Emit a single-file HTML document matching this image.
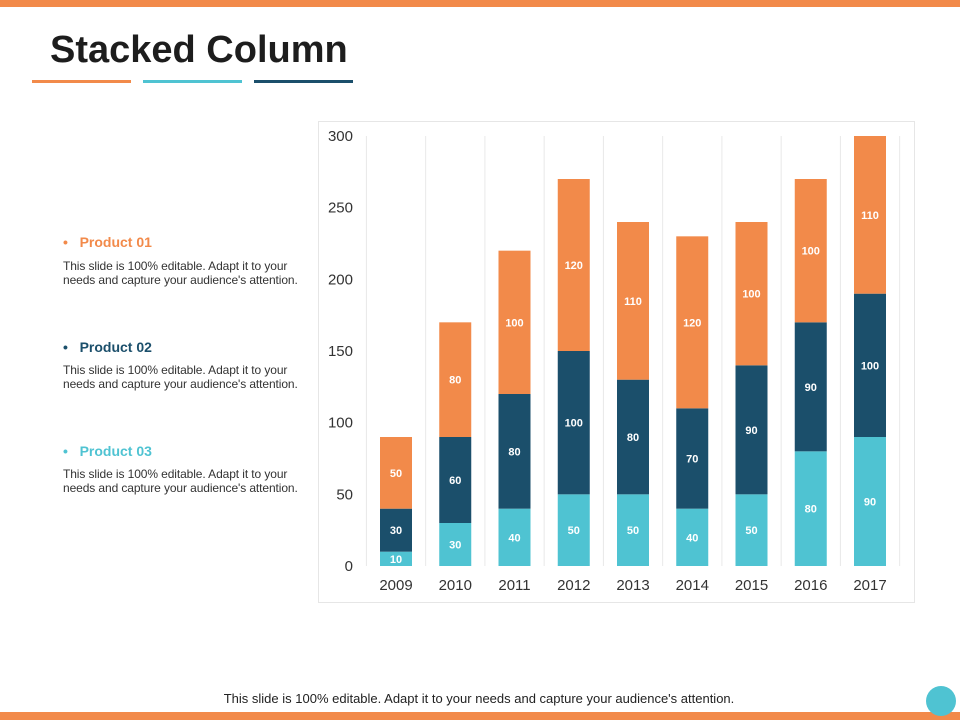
<!DOCTYPE html>
<html><head><meta charset="utf-8"><style>
body{margin:0;width:960px;height:720px;position:relative;background:#fff;font-family:"Liberation Sans",sans-serif;overflow:hidden}
.abs{position:absolute}
.ttl{left:50px;top:29px;font-size:38px;font-weight:bold;color:#1d1d1d}
.ph{font-size:14px;font-weight:bold}
.pd{font-size:12px;color:#333;line-height:14px;width:250px;letter-spacing:-0.1px}
</style></head><body>
<div class="abs" style="left:0;top:0;width:960px;height:7px;background:#F28A4A"></div>
<div class="abs" style="left:0;top:712px;width:960px;height:8px;background:#F28A4A"></div>
<div class="abs ttl">Stacked Column</div>
<div class="abs" style="left:32px;top:80px;width:99px;height:3px;background:#F28A4A"></div>
<div class="abs" style="left:143px;top:80px;width:99px;height:3px;background:#4FC3D2"></div>
<div class="abs" style="left:254px;top:80px;width:99px;height:3px;background:#1B4F6B"></div>

<div class="abs ph" style="left:63px;top:234px;color:#F28A4A">•&nbsp;&nbsp;&nbsp;Product 01</div>
<div class="abs pd" style="left:63px;top:259px">This slide is 100% editable. Adapt it to your needs and capture your audience's attention.</div>
<div class="abs ph" style="left:63px;top:339px;color:#1B4F6B">•&nbsp;&nbsp;&nbsp;Product 02</div>
<div class="abs pd" style="left:63px;top:363px">This slide is 100% editable. Adapt it to your needs and capture your audience's attention.</div>
<div class="abs ph" style="left:63px;top:443px;color:#4FC3D2">•&nbsp;&nbsp;&nbsp;Product 03</div>
<div class="abs pd" style="left:63px;top:467px">This slide is 100% editable. Adapt it to your needs and capture your audience's attention.</div>

<div class="abs" style="left:0;width:958px;top:691px;text-align:center;font-size:13px;color:#222">This slide is 100% editable. Adapt it to your needs and capture your audience's attention.</div>
<div class="abs" style="left:926px;top:686px;width:30px;height:30px;border-radius:50%;background:#4FC3D2"></div>

<svg class="abs" style="left:0;top:0" width="960" height="720" id="chart"></svg>
<script>
const categories=["2009","2010","2011","2012","2013","2014","2015","2016","2017"];
const product03=[10,30,40,50,50,40,50,80,90];
const product02=[30,60,80,100,80,70,90,90,100];
const product01=[50,80,100,120,110,120,100,100,110];
const yTicks=[0,50,100,150,200,250,300];
const svg=document.getElementById('chart');
const NS='http://www.w3.org/2000/svg';
const y=v=>566-v*(430/300);
const x=i=>396+i*59.25;
function mk(t,a){const e=document.createElementNS(NS,t);for(const k in a)e.setAttribute(k,a[k]);svg.appendChild(e);return e;}
const frame=mk('rect',{x:318.5,y:121.5,width:596,height:481,fill:'none',stroke:'#e6e6e6'});


for(let i=0;i<=categories.length;i++){
  const gx=x(i)-29.6;
  const g=mk('line',{x1:gx,x2:gx,y1:y(300),y2:y(0),stroke:'#e8e8e8'});
  
  
}
yTicks.forEach(t=>{
  const e=mk('text',{x:353,y:y(t)+5,'text-anchor':'end','font-size':15,fill:'#333','font-family':'Liberation Sans'});
  e.textContent=t;
  
  
});
const series=[[product03,'#4FC3D2','product-03'],[product02,'#1B4F6B','product-02'],[product01,'#F28A4A','product-01']];
categories.forEach((c,i)=>{
  let base=0;
  series.forEach(([arr,col,nm])=>{
    const v=arr[i];
    const r=mk('rect',{x:x(i)-16,y:y(base+v),width:32,height:y(base)-y(base+v),fill:col});
    
    
    const l=mk('text',{x:x(i),y:y(base+v/2)+4,'text-anchor':'middle','font-size':11,'font-weight':'bold',fill:'#fff','font-family':'Liberation Sans'});
    l.textContent=v;
    
    
    base+=v;
  });
  const t=mk('text',{x:x(i),y:590,'text-anchor':'middle','font-size':15,fill:'#333','font-family':'Liberation Sans'});
  t.textContent=c;
  
  
});
</script>
</body></html>
